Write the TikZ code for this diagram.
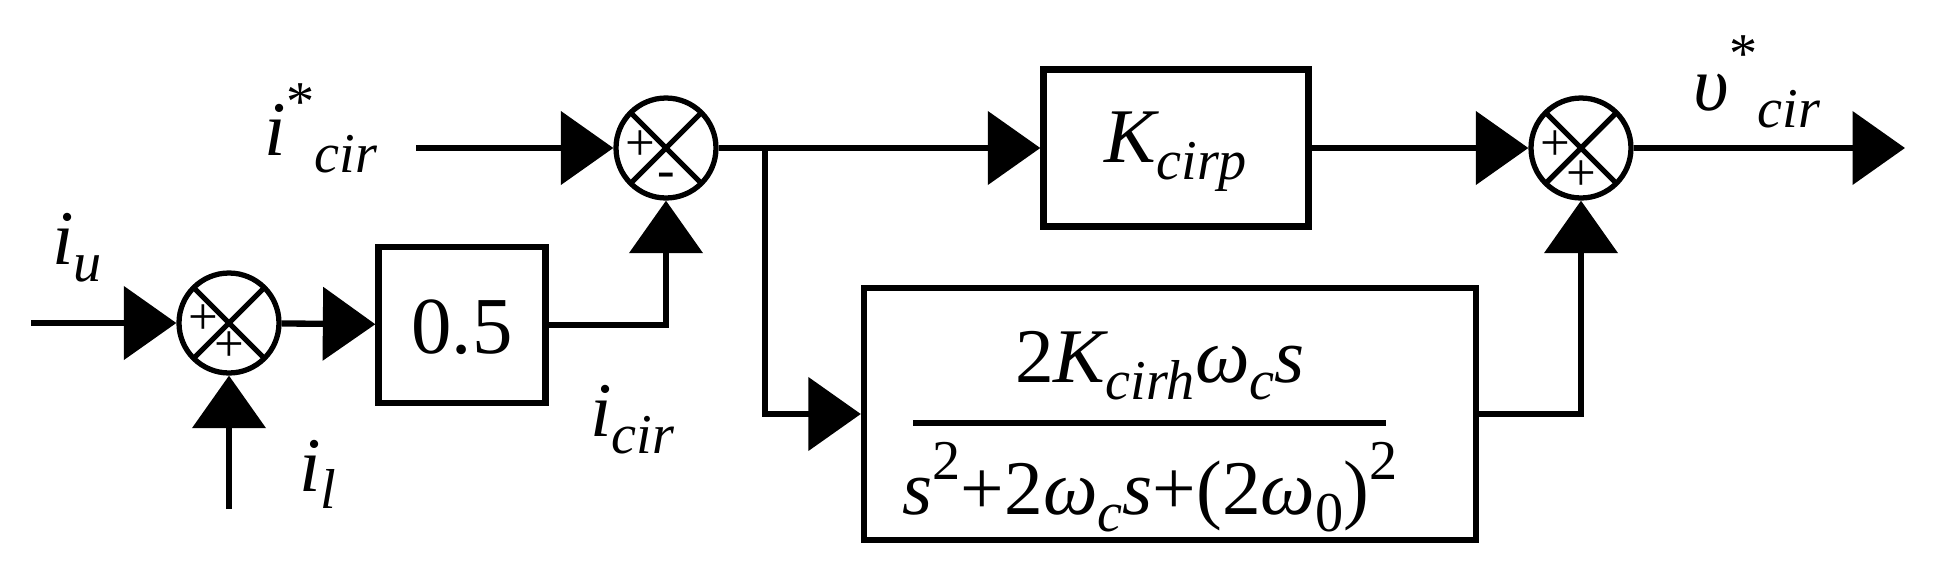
\documentclass[tikz,border=0pt]{standalone}
\usepackage{fontspec}
\setmainfont{Liberation Serif}
\newfontfamily\tms{Liberation Serif}
\usetikzlibrary{arrows.meta}
\newcommand{\sbs}[1]{\raisebox{-0.22em}{\fontsize{32}{32}\selectfont #1}}
\begin{document}
\begin{tikzpicture}[x=0.02cm,y=-0.02cm,
  ln/.style={line width=3.6pt},
  ar/.style={ln,-{Triangle[length=1.05cm,width=1.45cm]}},
  blk/.style={draw,line width=3.6pt,inner sep=0pt},
  sumj/.style={circle,draw,line width=3pt,minimum size=2cm,inner sep=0pt,
    path picture={\draw[line width=3pt] (path picture bounding box.north west)--(path picture bounding box.south east)
      (path picture bounding box.north east)--(path picture bounding box.south west);}},
  lab/.style={font=\tms\fontsize{44}{44}\selectfont\itshape},
  sg/.style={font=\tms\fontsize{30}{30}\selectfont}]
\useasboundingbox (0,0) rectangle (1934,572);
\node[sumj] (s1) at (229,323) {};
\node[sumj] (s2) at (666,148) {};
\node[sumj] (s3) at (1581,148) {};
\node[sg] at (203,320) {+};
\node[sg] at (229,347) {+};
\node[sg] at (640,146) {+};
\node[sg] at (666,180) {-};
\node[sg] at (1555,146) {+};
\node[sg] at (1581,176) {+};
\node[blk,minimum width=167*0.02cm,minimum height=156*0.02cm] (b05) at (462,325) {};
\node[font=\tms\fontsize{46}{46}\selectfont] at (462,327) {0.5};
\node[blk,minimum width=265*0.02cm,minimum height=157*0.02cm] (kp) at (1176,148) {};
\node[lab] at (1176,152) {K\sbs{cirp}};
\node[blk,minimum width=612*0.02cm,minimum height=252*0.02cm] (fr) at (1170,414) {};
\node[lab] at (1160,366) {\upshape 2\itshape K\sbs{cirh}ω\sbs{c}s};
\node[lab] at (1150,487) {s\raisebox{0.45em}{\upshape\fontsize{32}{32}\selectfont 2}\upshape +2\itshape ω\sbs{c}s\upshape +(2\itshape ω\sbs{\upshape 0}\upshape )\raisebox{0.45em}{\fontsize{32}{32}\selectfont 2}};
\draw[line width=3.6pt] (913,423) -- (1386,423);
\coordinate (in1) at (31,323);
\coordinate (in2) at (229,509);
\coordinate (in3) at (416,148);
\coordinate (br) at (765,148);
\coordinate (out) at (1905,148);
\draw[ar] (in1) -- (s1);
\draw[ar] (in2) -- (s1);
\draw[ar] (s1) -- (b05);
\draw[ar] (b05.east) -| (s2);
\draw[ar] (in3) -- (s2);
\draw[ln] (s2) -- (br);
\draw[ar] (br) -- (kp);
\draw[ar] (br) |- (fr.west);
\draw[ar] (kp) -- (s3);
\draw[ar] (fr.east) -| (s3);
\draw[ar] (s3) -- (out);
\node[lab] at (77,248) {i\sbs{u}};
\node[lab] at (318,474) {i\sbs{l}};
\node[lab] at (321,128) {i\raisebox{0.45em}{\upshape\fontsize{32}{32}\selectfont *}\sbs{cir}};
\node[lab] at (632,420) {i\sbs{cir}};
\node[lab] at (1757,82) {υ\raisebox{0.5em}{\upshape\fontsize{32}{32}\selectfont *}\sbs{cir}};
\end{tikzpicture}
\end{document}
